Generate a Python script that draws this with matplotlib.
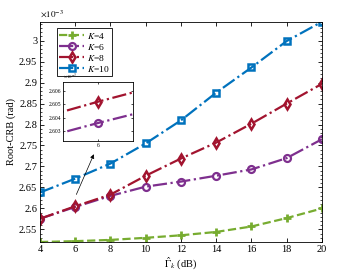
import matplotlib
matplotlib.use("Agg")
import matplotlib.pyplot as plt
import numpy as np

# data (values in units of 1e-3 rad)
snr_db = [4, 6, 8, 10, 12, 14, 16, 18, 20]
crb_k4 = [2.520, 2.522, 2.525, 2.530, 2.536, 2.544, 2.557, 2.577, 2.600]
crb_k6 = [2.5755, 2.6036, 2.630, 2.652, 2.664, 2.678, 2.693, 2.720, 2.765]
crb_k8 = [2.5755, 2.6052, 2.633, 2.678, 2.719, 2.757, 2.802, 2.850, 2.897]
crb_k10 = [2.638, 2.671, 2.707, 2.755, 2.810, 2.876, 2.936, 2.999, 3.045]
labels = ["$K$=4", "$K$=6", "$K$=8", "$K$=10"]
x_ticks = [4, 6, 8, 10, 12, 14, 16, 18, 20]
y_ticks = [2.55, 2.6, 2.65, 2.7, 2.75, 2.8, 2.85, 2.9, 2.95, 3.0]
inset_yticks = [2.603, 2.604, 2.605, 2.606]

plt.rcParams["font.family"] = ["Liberation Serif", "DejaVu Serif"]
plt.rcParams["mathtext.fontset"] = "stix"

styles = [
    dict(color="#77AC30", ls="--", marker="+", ms=6, mew=2.0),
    dict(color="#7E2F8E", ls="-.", marker="o", ms=5, mew=1.6, mfc="none"),
    dict(color="#A2142F", ls="-.", marker="d", ms=5.5, mew=1.8, mfc="none"),
    dict(color="#0072BD", ls="-.", marker="s", ms=5, mew=1.8, mfc="none"),
]
series = [crb_k4, crb_k6, crb_k8, crb_k10]

fig = plt.figure(figsize=(3.49, 2.75), dpi=100)
ax = fig.add_axes([0.1146, 0.12, 0.808, 0.801])
for ys, lab, st in zip(series, labels, styles):
    ax.plot(snr_db, ys, lw=1.6, label=lab, **st)

ax.set_xlim(4, 20)
ax.set_ylim(min(crb_k4), max(crb_k10))
ax.set_xticks(x_ticks)
ax.set_yticks(y_ticks)
ax.set_yticklabels(["%g" % v for v in y_ticks])
ax.set_yticks(np.arange(2.52, 3.045, 0.01), minor=True)
ax.tick_params(which="both", direction="in", top=True, right=True,
               labelsize=7.5, pad=2)
ax.tick_params(which="major", length=3, width=0.6)
ax.tick_params(which="minor", length=1.5, width=0.5)
for sp in ax.spines.values():
    sp.set_linewidth(0.6)
ax.set_xlabel(r"$\hat{\Gamma}_k$ (dB)", fontsize=7.5, labelpad=1)
ax.set_ylabel("Root-CRB (rad)", fontsize=7.5, labelpad=2)
ax.text(0.0, 1.012, r"$\times10^{-3}$", transform=ax.transAxes,
        fontsize=6.5, ha="left", va="bottom")

leg = ax.legend(loc="upper left", bbox_to_anchor=(0.06, 0.97),
                borderaxespad=0, fontsize=6.8, handlelength=2.6,
                handletextpad=0.3, labelspacing=0.1, borderpad=0.25,
                fancybox=False, framealpha=1, edgecolor="black")
leg.get_frame().set_linewidth(0.6)

# inset zoom around 6 dB
ins = fig.add_axes([0.1805, 0.4873, 0.2005, 0.2145])
for ys, st in zip(series, styles):
    ins.plot(snr_db, ys, lw=1.6, **st)
ins.set_xlim(5.95, 6.05)
ins.set_ylim(2.60225, 2.60668)
ins.set_xticks([6])
ins.set_yticks(inset_yticks)
ins.set_yticklabels(["%.3f" % v for v in inset_yticks])
ins.tick_params(direction="in", top=True, right=True, labelsize=4,
                length=1.5, width=0.5, pad=1.5)
for sp in ins.spines.values():
    sp.set_linewidth(0.6)
ins.text(0.0, 1.02, r"$\times10^{-3}$", transform=ins.transAxes,
         fontsize=3.5, ha="left", va="bottom")

ax.annotate("", xy=(0.195, 0.41), xycoords="axes fraction",
            xytext=(snr_db[1], crb_k8[1] + 0.022), textcoords="data",
            arrowprops=dict(arrowstyle="-|>", color="black", lw=0.5,
                            mutation_scale=6))

fig.savefig("out.png", dpi=100)
